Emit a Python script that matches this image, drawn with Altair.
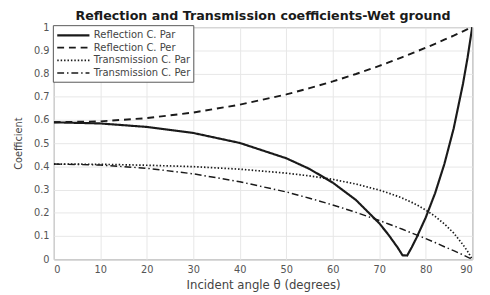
import altair as alt
import pandas as pd

angles = [0, 10, 20, 30, 40, 50, 55, 60, 65, 70, 72, 74, 75, 76, 77, 78, 80, 82, 84, 86, 88, 89, 90]
refl_par = [0.590, 0.585, 0.570, 0.544, 0.501, 0.435, 0.389, 0.330, 0.255, 0.155, 0.105, 0.049, 0.017,
            0.016, 0.052, 0.092, 0.180, 0.284, 0.410, 0.563, 0.755, 0.869, 1.0]
refl_perp = [0.590, 0.594, 0.608, 0.632, 0.666, 0.710, 0.737, 0.766, 0.798, 0.833, 0.848, 0.863, 0.871,
             0.879, 0.887, 0.895, 0.911, 0.928, 0.946, 0.963, 0.982, 0.991, 1.0]
trans_par = [0.410, 0.409, 0.405, 0.399, 0.388, 0.371, 0.359, 0.344, 0.324, 0.298, 0.285, 0.271, 0.263,
             0.254, 0.245, 0.235, 0.212, 0.185, 0.152, 0.113, 0.063, 0.034, 0.0]
trans_perp = [0.410, 0.406, 0.392, 0.368, 0.334, 0.290, 0.263, 0.234, 0.202, 0.167, 0.152, 0.137, 0.129,
              0.121, 0.113, 0.105, 0.089, 0.072, 0.054, 0.037, 0.019, 0.009, 0.0]
series_names = ["Reflection C. Par", "Reflection C. Per", "Transmission C. Par", "Transmission C. Per"]
x_ticks = [0, 10, 20, 30, 40, 50, 60, 70, 80, 90]
y_ticks = [0, 0.1, 0.2, 0.3, 0.4, 0.5, 0.6, 0.7, 0.8, 0.9, 1.0]

rows = []
for name, vals in zip(series_names, [refl_par, refl_perp, trans_par, trans_perp]):
    for a, v in zip(angles, vals):
        rows.append({"angle": a, "value": v, "series": name})
df = pd.DataFrame(rows)

FONT = "DejaVu Sans"

legend_opts = dict(title=None, orient="none", legendX=-1, legendY=-2,
                   symbolType="M-1,0H4.5", symbolSize=144,
                   symbolStrokeColor="#1a1a1a",
                   labelFontSize=10.2, labelFont=FONT, labelColor="#444",
                   labelOffset=24, rowPadding=-1, padding=3,
                   fillColor="white", strokeColor="#555")

chart = alt.Chart(df).mark_line(clip=True, color="#1a1a1a").encode(
    x=alt.X("angle:Q", scale=alt.Scale(domain=[0, 90], nice=False),
            axis=alt.Axis(values=x_ticks, title="Incident angle θ (degrees)", format="d",
                          grid=True, gridColor="#e6e6e6", domain=False, ticks=False,
                          labelPadding=6, labelFontSize=10, labelColor="#555",
                          titleFontSize=12, titleFontWeight="normal", titleColor="#444",
                          titlePadding=5, labelFont=FONT, titleFont=FONT)),
    y=alt.Y("value:Q", scale=alt.Scale(domain=[0, 1], nice=False),
            axis=alt.Axis(values=y_ticks, title="Coefficient", format="~g",
                          grid=True, gridColor="#e6e6e6", domain=False, ticks=False,
                          labelPadding=5, labelFontSize=10, labelColor="#555",
                          titleFontSize=10, titleFontWeight="normal", titleColor="#444",
                          titlePadding=10, labelFont=FONT, titleFont=FONT)),
    strokeDash=alt.StrokeDash("series:N",
                              scale=alt.Scale(domain=series_names,
                                              range=[[1, 0], [7, 5], [1.5, 2], [7, 3, 1.5, 3]]),
                              legend=alt.Legend(**legend_opts)),
    strokeWidth=alt.StrokeWidth("series:N",
                                scale=alt.Scale(domain=series_names, range=[2.2, 1.5, 1.3, 1.3]),
                                legend=alt.Legend(**legend_opts)),
).properties(
    width=429, height=238,
    title=alt.Title("Reflection and Transmission coefficients-Wet ground",
                    fontSize=13, font=FONT, fontWeight="bold", color="#1a1a1a", offset=-1),
    autosize=alt.AutoSizeParams(type="none"),
    padding={"left": 47, "top": 16, "right": 10, "bottom": 31},
).configure_view(stroke="#555", strokeWidth=1)

chart.save("out.html", embed_options={"renderer": "svg", "actions": False})
